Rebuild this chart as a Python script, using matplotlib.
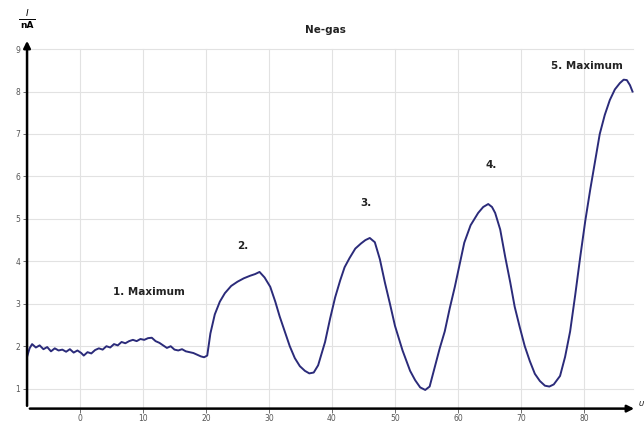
import numpy as np
import matplotlib.pyplot as plt

# accelerating voltage U (V) and collector current I (nA)
U = [-8.4, -8.0, -7.6, -7.0, -6.4, -5.8, -5.2, -4.6, -4.0, -3.4, -2.8, -2.2, -1.6, -1.0, -0.4,
     0.2, 0.6, 1.2, 1.8, 2.4, 3.0, 3.6, 4.2, 4.8, 5.4, 6.0, 6.6, 7.2, 7.8, 8.4, 9.0, 9.6,
     10.2, 10.8, 11.4, 12.0, 12.6, 13.2, 13.8, 14.4, 15.0, 15.6, 16.2, 16.8, 17.4, 18.0,
     18.6, 19.2, 19.7, 20.2, 20.7, 21.4, 22.2, 23.0, 24.0, 25.0, 26.0, 27.0, 27.8, 28.5,
     29.3, 30.2, 31.0, 31.7, 32.5, 33.3, 34.1, 34.9, 35.7, 36.4, 37.1, 37.8, 38.4, 38.9,
     39.7, 40.5, 41.3, 42.0, 42.8, 43.7, 44.6, 45.3, 46.0, 46.8, 47.6, 48.4, 49.2, 50.0,
     51.2, 52.4, 53.2, 54.0, 54.8, 55.5, 56.3, 57.1, 57.9, 58.7, 59.5, 60.3, 61.0, 62.0,
     63.2, 64.0, 64.8, 65.4, 65.9, 66.7, 67.5, 68.3, 69.0, 69.8, 70.6, 71.4, 72.2, 73.0,
     73.8, 74.5, 75.2, 76.2, 77.0, 77.8, 78.6, 79.4, 80.2, 81.0, 81.8, 82.5, 83.3, 84.1,
     84.9, 85.7, 86.3, 86.8, 87.3, 87.7]
I = [1.75, 1.95, 2.05, 1.97, 2.02, 1.93, 1.98, 1.88, 1.95, 1.90, 1.92, 1.87, 1.93, 1.85, 1.90,
     1.84, 1.78, 1.86, 1.83, 1.91, 1.95, 1.92, 2.00, 1.97, 2.05, 2.02, 2.10, 2.07, 2.12, 2.15,
     2.12, 2.17, 2.15, 2.19, 2.20, 2.12, 2.08, 2.02, 1.96, 2.00, 1.92, 1.90, 1.93, 1.88,
     1.86, 1.84, 1.80, 1.76, 1.74, 1.78, 2.30, 2.75, 3.05, 3.25, 3.42, 3.52, 3.60, 3.66,
     3.70, 3.75, 3.62, 3.40, 3.05, 2.70, 2.35, 2.00, 1.72, 1.53, 1.42, 1.36, 1.38, 1.55,
     1.85, 2.10, 2.65, 3.15, 3.55, 3.86, 4.08, 4.30, 4.42, 4.50, 4.55, 4.45, 4.05, 3.50,
     3.00, 2.48, 1.90, 1.42, 1.20, 1.03, 0.97, 1.05, 1.50, 1.95, 2.35, 2.90, 3.40, 3.95,
     4.44, 4.85, 5.14, 5.28, 5.35, 5.28, 5.14, 4.75, 4.10, 3.50, 2.93, 2.45, 2.00, 1.65,
     1.35, 1.18, 1.07, 1.05, 1.10, 1.30, 1.75, 2.35, 3.20, 4.10, 4.95, 5.70, 6.40, 7.00,
     7.45, 7.80, 8.05, 8.20, 8.28, 8.27, 8.15, 8.00]

x_ticks = [0, 10, 20, 30, 40, 50, 60, 70, 80]
y_ticks = [1, 2, 3, 4, 5, 6, 7, 8, 9]

peak_labels = ["1. Maximum", "2.", "3.", "4.", "5. Maximum"]
peak_x = [11.0, 25.9, 45.4, 65.2, 80.5]
peak_y = [3.28, 4.37, 5.37, 6.26, 8.6]

fig = plt.figure(figsize=(6.44, 4.23), dpi=100)
ax = fig.add_axes([0.042, 0.034, 0.947, 0.876])
ax.set_xlim(-8.4, 88.4)
ax.set_ylim(0.53, 9.26)

for xt in x_ticks:
    ax.plot([xt, xt], [0.53, 9.0], color='#e2e2e2', lw=0.8, zorder=0)
for yt in y_ticks:
    ax.plot([-8.4, 87.8], [yt, yt], color='#e2e2e2', lw=0.8, zorder=0)

ax.plot(U, I, color='#2b2b7a', lw=1.4)

for s in ax.spines.values():
    s.set_visible(False)
ax.set_xticks(x_ticks)
ax.set_yticks(y_ticks)
ax.set_xticklabels([str(v) for v in x_ticks])
ax.set_yticklabels([str(v) for v in y_ticks])
ax.tick_params(axis='both', labelsize=5.5, colors='#555555', length=3, width=0.6, pad=1)
ax.tick_params(axis='y', pad=2)

# arrow axes
ax.annotate('', xy=(1.0, 0), xytext=(0, 0), xycoords='axes fraction',
            arrowprops=dict(arrowstyle='-|>', color='black', lw=1.8, mutation_scale=10),
            annotation_clip=False)
ax.annotate('', xy=(0, 1.0), xytext=(0, 0), xycoords='axes fraction',
            arrowprops=dict(arrowstyle='-|>', color='black', lw=1.8, mutation_scale=10),
            annotation_clip=False)

for lab, px, py in zip(peak_labels, peak_x, peak_y):
    ax.text(px, py, lab, ha='center', va='center', fontsize=7.5, fontweight='bold',
            color='#222222')

fig.text(0.505, 0.928, "Ne-gas", ha='center', va='center', fontsize=7.5,
         fontweight='bold', color='#222222')

# y-axis unit I / nA
fig.text(0.042, 0.968, "I", ha='center', va='center', fontsize=6.5, style='italic')
fig.text(0.042, 0.940, "nA", ha='center', va='center', fontsize=6.5, fontweight='bold')
fig.add_artist(plt.Line2D([0.030, 0.054], [0.955, 0.955], color='black', lw=0.7))
fig.text(0.992, 0.045, "U", ha='left', va='center', fontsize=5, style='italic')

fig.savefig("out.png", dpi=100)
